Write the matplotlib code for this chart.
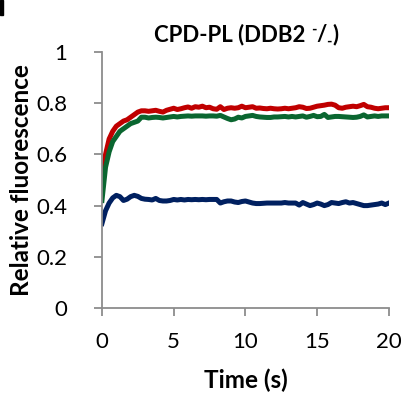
import matplotlib
matplotlib.use("Agg")
import matplotlib.pyplot as plt
from matplotlib.patches import Rectangle

plt.rcParams['font.family'] = ['Lato', 'DejaVu Sans']

time_s = [i * 0.25 for i in range(81)]

red = [0.47, 0.60, 0.66, 0.69, 0.71, 0.72, 0.73, 0.735, 0.745, 0.755, 0.765, 0.770, 0.770,
       0.768, 0.770, 0.772, 0.768, 0.765, 0.772, 0.776, 0.780, 0.775, 0.778, 0.782, 0.785,
       0.780, 0.786, 0.784, 0.788, 0.782, 0.784, 0.778, 0.776, 0.786, 0.775, 0.780, 0.782,
       0.780, 0.782, 0.788, 0.782, 0.784, 0.786, 0.780, 0.781, 0.779, 0.778, 0.780, 0.778,
       0.777, 0.778, 0.780, 0.778, 0.780, 0.782, 0.786, 0.784, 0.779, 0.780, 0.784, 0.788,
       0.790, 0.792, 0.795, 0.796, 0.792, 0.782, 0.780, 0.784, 0.786, 0.788, 0.786, 0.790,
       0.795, 0.786, 0.784, 0.780, 0.778, 0.780, 0.782, 0.782]

green = [0.42, 0.55, 0.61, 0.65, 0.67, 0.69, 0.70, 0.71, 0.72, 0.725, 0.730, 0.745, 0.745,
         0.742, 0.744, 0.745, 0.744, 0.742, 0.744, 0.746, 0.748, 0.746, 0.748, 0.749, 0.750,
         0.749, 0.750, 0.750, 0.750, 0.749, 0.750, 0.750, 0.749, 0.752, 0.746, 0.740, 0.735,
         0.738, 0.745, 0.742, 0.748, 0.750, 0.752, 0.748, 0.746, 0.745, 0.744, 0.744, 0.746,
         0.746, 0.747, 0.748, 0.746, 0.748, 0.746, 0.748, 0.750, 0.745, 0.748, 0.752, 0.747,
         0.748, 0.756, 0.744, 0.746, 0.748, 0.748, 0.747, 0.746, 0.745, 0.744, 0.745, 0.748,
         0.754, 0.746, 0.748, 0.750, 0.748, 0.750, 0.750, 0.750]

blue = [0.33, 0.38, 0.41, 0.43, 0.44, 0.435, 0.420, 0.425, 0.435, 0.440, 0.436, 0.428, 0.425,
        0.424, 0.422, 0.428, 0.420, 0.418, 0.418, 0.420, 0.424, 0.422, 0.424, 0.422, 0.424,
        0.423, 0.424, 0.423, 0.424, 0.423, 0.424, 0.424, 0.424, 0.410, 0.415, 0.418, 0.418,
        0.414, 0.412, 0.416, 0.418, 0.414, 0.410, 0.408, 0.408, 0.409, 0.410, 0.410, 0.410,
        0.410, 0.410, 0.412, 0.410, 0.410, 0.410, 0.402, 0.412, 0.406, 0.400, 0.404, 0.410,
        0.406, 0.400, 0.404, 0.412, 0.410, 0.408, 0.412, 0.415, 0.410, 0.412, 0.408, 0.404,
        0.400, 0.400, 0.402, 0.404, 0.406, 0.410, 0.404, 0.410]

x_ticks = [0, 5, 10, 15, 20]
y_ticks = [0, 0.2, 0.4, 0.6, 0.8, 1]
y_tick_labels = ['0', '0.2', '0.4', '0.6', '0.8', '1']

fig = plt.figure(figsize=(4.03, 3.96), dpi=100)
ax = fig.add_axes([0.253, 0.222, 0.712, 0.647])

lw = 3.6
ax.plot(time_s, red, color='#C00000', lw=lw, solid_joinstyle='round')
ax.plot(time_s, green, color='#0A6630', lw=lw, solid_joinstyle='round')
ax.plot(time_s, blue, color='#002060', lw=lw, solid_joinstyle='round')

ax.set_xlim(0, 20)
ax.set_ylim(0, 1)
ax.set_xticks(x_ticks)
ax.set_yticks(y_ticks)
ax.set_yticklabels(y_tick_labels)
for s in ['top', 'right']:
    ax.spines[s].set_visible(False)
for s in ['left', 'bottom']:
    ax.spines[s].set_color('#8C8C8C')
    ax.spines[s].set_linewidth(1.3)
ax.tick_params(axis='both', direction='out', length=6, width=1.3, color='#8C8C8C',
               labelsize=16, labelcolor='black')
ax.tick_params(axis='x', pad=11)
ax.tick_params(axis='y', pad=19)

ax.set_xlabel('Time (s)', fontsize=17.5, fontweight='bold')
ax.set_ylabel('Relative fluorescence', fontsize=17.5, fontweight='bold')
ax.xaxis.set_label_coords(0.5, -0.235)
ax.yaxis.set_label_coords(-0.24, 0.5)

# Title built from pieces (superscript and subscript hyphens)
pieces = [('CPD-PL (DDB2 ', 16, 0), ('-', 10.5, 7), ('/', 16, 0), ('-', 10.5, -5), (')', 16, 0)]
renderer = fig.canvas.get_renderer()
texts = []
for s, fs, dy in pieces:
    t = fig.text(0, 0, s, fontsize=fs, fontweight='bold', ha='left', va='baseline')
    texts.append((t, dy))
widths = [t.get_window_extent(renderer).width for t, _ in texts]
total = sum(widths)
center_px = 246
base_px = 396 - 41
x_cur = center_px - total / 2
for (t, dy), w in zip(texts, widths):
    t.set_position((x_cur / 403, (base_px + dy) / 396))
    x_cur += w

fig.patches.append(Rectangle((0, 1 - 15 / 396), 3 / 403, 15 / 396, transform=fig.transFigure,
                             color='black', zorder=5))

fig.savefig('out.png', dpi=100)
